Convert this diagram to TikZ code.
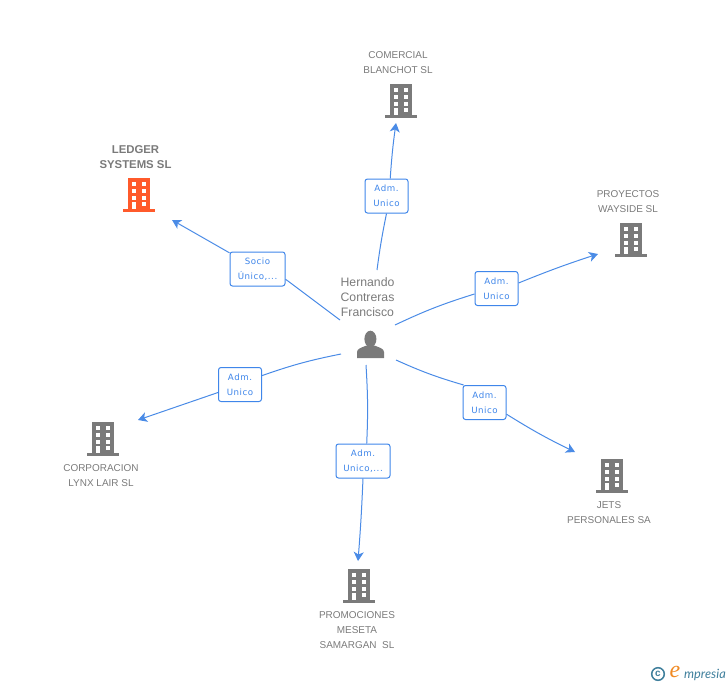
\documentclass[tikz,border=0pt]{standalone}
\usepackage{fontspec}
\setmainfont{Liberation Sans}
\newfontfamily\boxfont[LetterSpace=6]{DejaVu Sans}
\newfontfamily\logofont{Lato}
\newfontfamily\logoserif{Liberation Serif}
\usetikzlibrary{arrows.meta}
\definecolor{linkblue}{HTML}{4A8BE6}
\definecolor{boxblue}{HTML}{3F86EA}
\definecolor{labelgray}{HTML}{7A7A7A}
\definecolor{iconred}{HTML}{FF5A2B}
\definecolor{logoteal}{HTML}{3F7F9C}
\definecolor{logoorange}{HTML}{F08A24}
\tikzset{
  company/.style={align=center,text=labelgray,font=\fontsize{10}{15}\selectfont},
  adm/.style={draw=boxblue,line width=1bp,rounded corners=2.5bp,fill=white,text=boxblue,
    inner sep=0pt,minimum height=34bp,align=center,font=\boxfont\fontsize{8.7}{15}\selectfont},
  link/.style={linkblue,line width=1bp},
  linkto/.style={link,-{Stealth[length=9bp,width=10bp,inset=2.5bp]}},
  pics/building/.style={code={
    \fill[#1] (-11,-17) rectangle (11,14);
    \fill[#1] (-16,14) rectangle (16,17);
    \foreach \wy in {-12.7,-6,0.7} {
      \fill[white] (-7,\wy) rectangle (-2.7,\wy+4);
      \fill[white] (2.7,\wy) rectangle (7.3,\wy+4);
    }
    \fill[white] (-7,7.3) rectangle (-2.7,14);
    \fill[white] (2.7,7.3) rectangle (7.3,11.3);
  }}
}
\begin{document}
\begin{tikzpicture}[x=1bp,y=-1bp]
\useasboundingbox (0,0) rectangle (728,685);

% Central person
\node[company,font=\fontsize{12.3}{15}\selectfont] (hernando) at (367.5,297) {Hernando\\Contreras\\Francisco};
\fill[labelgray] (370.4,339) ellipse (6 and 8.3);
\fill[labelgray] (357,358) -- (357,352) .. controls (357,348.5) and (362,347.5) .. (366.5,345.5)
  -- (374.5,345.5) .. controls (379,347.5) and (384,348.5) .. (384,352) -- (384,358) -- cycle;

% Companies
\pic at (139,195) {building=iconred};
\pic at (401,101) {building=labelgray};
\pic at (631,240) {building=labelgray};
\pic at (612,476) {building=labelgray};
\pic at (359,586) {building=labelgray};
\pic at (103,439) {building=labelgray};

\node[company,font=\bfseries\fontsize{11.4}{15}\selectfont] (ledger) at (135.5,157) {LEDGER\\SYSTEMS SL};
\node[company] (comercial) at (398,62.5) {COMERCIAL\\BLANCHOT SL};
\node[company] (proyectos) at (628,201.5) {PROYECTOS\\WAYSIDE SL};
\node[company] (jets) at (609,512.5) {JETS\\PERSONALES SA};
\node[company] (promociones) at (357,630) {PROMOCIONES\\MESETA\\SAMARGAN\ \ SL};
\node[company] (corporacion) at (101,475.5) {CORPORACION\\LYNX LAIR SL};

% Role boxes
\node[adm,minimum width=55bp] (socio) at (257.5,269) {Socio\\Único,...};
\node[adm,minimum width=43bp] (admcom) at (386.5,196) {Adm.\\Unico};
\node[adm,minimum width=43bp] (admpro) at (496.5,288.5) {Adm.\\Unico};
\node[adm,minimum width=43bp] (admjet) at (484.5,402.5) {Adm.\\Unico};
\node[adm,minimum width=54bp] (admpsm) at (363,461) {Adm.\\Unico,...};
\node[adm,minimum width=43bp] (admcor) at (240,384.5) {Adm.\\Unico};

% Line ends
\coordinate (s1) at (340,320);
\coordinate (s2) at (377,270);
\coordinate (s3) at (395,325);
\coordinate (s4) at (396,360);
\coordinate (s5) at (366,365);
\coordinate (s6) at (341,354);
\coordinate (t1) at (172,220);
\coordinate (t2) at (396,123);
\coordinate (t3) at (598,254);
\coordinate (t4) at (575,452);
\coordinate (t5) at (358,561);
\coordinate (t6) at (138,420);

% Connections
\draw[link] (s1) -- (socio.-20);
\draw[linkto] (socio.150) -- (t1);
\draw[link] (s2) to[bend left=2] (admcom.south);
\draw[linkto] (admcom.78) to[bend left=2] (t2);
\draw[link] (s3) to[bend left=4] (admpro.194);
\draw[linkto] (admpro.14) to[bend left=2] (t3);
\draw[link] (s4) to[bend right=4] (admjet.140);
\draw[linkto] (admjet.-28) to[bend right=3] (t4);
\draw[link] (s5) to[bend left=3] (admpsm.78);
\draw[linkto] (admpsm.south) to[bend left=1] (t5);
\draw[link] (s6) to[bend right=4] (admcor.22);
\draw[linkto] (admcor.200) -- (t6);

% Logo
\draw[logoteal,line width=1.5bp] (658,674) circle (6.3);
\node[text=logoteal,inner sep=0pt,font=\bfseries\fontsize{10}{10}\selectfont] (copyr) at (658,673.5) {c};
\node[text=logoorange,inner sep=0pt,font=\logoserif\itshape\fontsize{24}{24}\selectfont] (logoe) at (675,671.5) {e};
\node[text=logoteal,inner sep=0pt,anchor=west,font=\logofont\itshape\fontsize{12.8}{14}\selectfont] (logotext) at (684,675) {mpresia};
\end{tikzpicture}
\end{document}
